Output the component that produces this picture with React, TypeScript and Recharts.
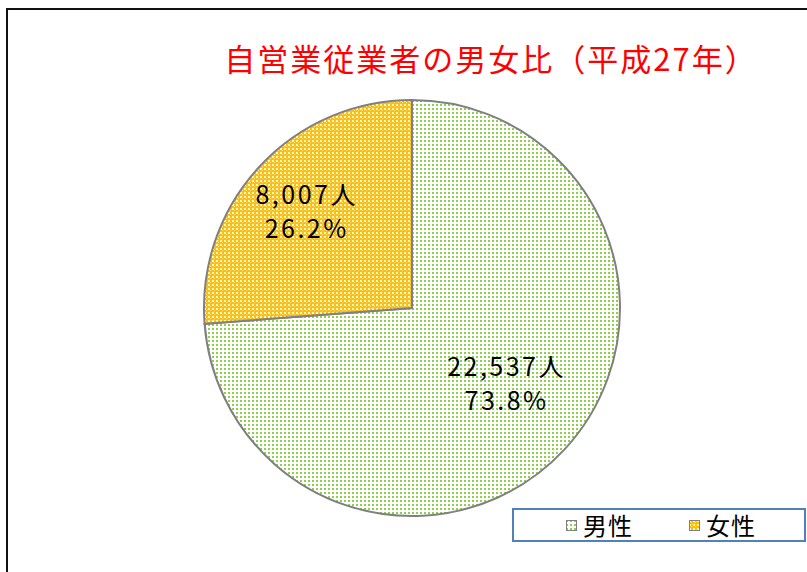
import React from 'react';
import { PieChart, Pie, Cell, Legend } from 'recharts';

// 自営業従業者の男女比（平成27年）
const categories = ['男性', '女性'];
const persons = [22537, 8007];
const shares = ['73.8%', '26.2%'];
const patternIds = ['maleDots', 'femaleDots'];

const chartTitle = '自営業従業者の男女比（平成27年）';

const chartData = categories.map((name, i) => ({
  name,
  value: persons[i],
  share: shares[i],
}));

const FONT = '"Noto Sans CJK JP", "Noto Sans", sans-serif';
const RADIAN = Math.PI / 180;

// label placement tweaks per slice (fraction of radius, vertical nudge)
const labelDist = [0.62, 0.69];
const labelNudge = [-14, 0];

const renderLabel = (props: any) => {
  const { cx, cy, midAngle, outerRadius, index, payload } = props;
  const r = outerRadius * labelDist[index];
  const x = cx + r * Math.cos(-midAngle * RADIAN);
  const y = cy + r * Math.sin(-midAngle * RADIAN) + labelNudge[index];
  return (
    <text
      x={x}
      y={y}
      textAnchor="middle"
      fill="#000"
      style={{ fontFamily: FONT, fontSize: 25, letterSpacing: 2.5 }}
    >
      <tspan x={x} dy={-6}>{payload.value.toLocaleString('en-US')}人</tspan>
      <tspan x={x} dy={34}>{payload.share}</tspan>
    </text>
  );
};

const LegendContent = () => (
  <div
    style={{
      boxSizing: 'border-box',
      width: 294,
      height: 34,
      border: '2px solid #4f81bd',
      background: '#fff',
      display: 'flex',
      alignItems: 'center',
      paddingLeft: 52,
      fontFamily: FONT,
      fontSize: 24,
      color: '#000',
    }}
  >
    {categories.map((c, i) => (
      <div key={c} style={{ display: 'flex', alignItems: 'center', marginRight: i === 0 ? 56 : 0 }}>
        <svg width={11} height={11} style={{ marginRight: 6 }}>
          <rect x={0.5} y={0.5} width={10} height={10} fill={`url(#${patternIds[i]})`} stroke="#808080" />
        </svg>
        <span style={{ lineHeight: '30px', letterSpacing: 1 }}>{c}</span>
      </div>
    ))}
  </div>
);

export default function App() {
  return (
    <div style={{ position: 'absolute', left: 0, top: 0, width: 807, height: 572, overflow: 'hidden', background: '#fff' }}>
      <div
        style={{
          position: 'absolute',
          left: 6,
          top: 8,
          width: 820,
          height: 590,
          border: '2px solid #111',
          boxSizing: 'border-box',
        }}
      />
      <div
        style={{
          position: 'absolute',
          left: 8,
          top: 37,
          width: 966,
          textAlign: 'center',
          fontFamily: FONT,
          fontSize: 31,
          letterSpacing: 2,
          lineHeight: '42px',
          color: '#ff0000',
        }}
      >
        {chartTitle}
      </div>
      <div style={{ position: 'absolute', left: 0, top: 0 }}>
        <PieChart width={807} height={572} margin={{ top: 0, right: 0, bottom: 0, left: 0 }}>
          <defs>
            <pattern id="maleDots" width={4} height={4} patternUnits="userSpaceOnUse">
              <rect width={4} height={4} fill="#ffffff" />
              <rect x={0} y={0} width={2} height={2} fill="#8fd04a" />
            </pattern>
            <pattern id="femaleDots" width={4} height={4} patternUnits="userSpaceOnUse">
              <rect width={4} height={4} fill="#ffc000" />
              <rect x={0} y={0} width={2} height={2} fill="#fff3cc" />
              <rect x={2} y={2} width={1} height={1} fill="#ffe080" />
            </pattern>
          </defs>
          <Pie
            data={chartData}
            dataKey="value"
            nameKey="name"
            cx={412}
            cy={308}
            outerRadius={208}
            startAngle={90}
            endAngle={-270}
            stroke="#808080"
            strokeWidth={2}
            label={renderLabel}
            labelLine={false}
            isAnimationActive={false}
          >
            {chartData.map((d, i) => (
              <Cell key={d.name} fill={`url(#${patternIds[i]})`} />
            ))}
          </Pie>
          <Legend
            content={<LegendContent />}
            wrapperStyle={{ position: 'absolute', left: 512, top: 508, width: 294, height: 34 }}
          />
        </PieChart>
      </div>
    </div>
  );
}
